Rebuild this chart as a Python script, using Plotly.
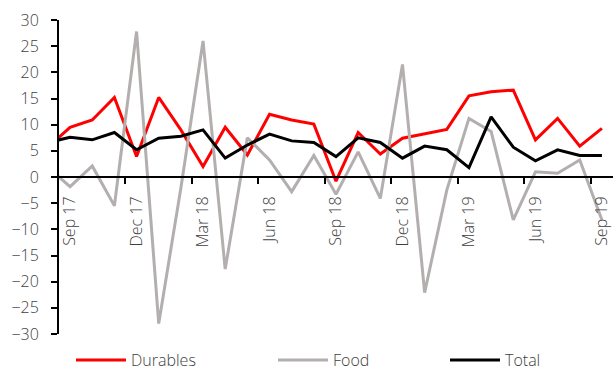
import plotly.graph_objects as go

# Monthly series, Aug 17 .. Sep 19 (year-on-year %, 3m/3m style)
months = ["Aug 17", "Sep 17", "Oct 17", "Nov 17", "Dec 17", "Jan 18", "Feb 18", "Mar 18",
          "Apr 18", "May 18", "Jun 18", "Jul 18", "Aug 18", "Sep 18", "Oct 18", "Nov 18",
          "Dec 18", "Jan 19", "Feb 19", "Mar 19", "Apr 19", "May 19", "Jun 19", "Jul 19",
          "Aug 19", "Sep 19"]

durables = [5.7, 9.5, 10.9, 15.2, 3.9, 15.2, 9.0, 2.0, 9.5, 4.2, 12.0, 10.9, 10.1, -0.8,
            8.5, 4.4, 7.4, 8.2, 9.1, 15.5, 16.3, 16.6, 7.1, 11.2, 5.9, 9.3]
food = [1.85, -1.85, 2.1, -5.5, 27.8, -28.0, -2.1, 26.0, -17.6, 7.5, 3.25, -2.8, 4.1, -3.3,
        4.8, -4.1, 21.5, -22.1, -2.5, 11.2, 8.7, -8.2, 1.0, 0.7, 3.25, -8.2]
total = [6.6, 7.6, 7.1, 8.5, 5.2, 7.4, 7.8, 9.0, 3.6, 6.1, 8.2, 6.9, 6.6, 3.9,
         7.5, 6.6, 3.6, 5.9, 5.2, 1.8, 11.5, 5.7, 3.1, 5.2, 4.1, 4.1]

label_months = ["Sep 17", "Dec 17", "Mar 18", "Jun 18", "Sep 18", "Dec 18", "Mar 19",
                "Jun 19", "Sep 19"]

idx = list(range(len(months)))
label_pos = [months.index(m) for m in label_months]
tick_pos = [p - 0.5 for p in label_pos[1:]]

FONT = "Open Sans"
TXT = "#404040"
x_range = [0.5, len(months) - 0.5]

series = [
    ("Durables", durables, "#ff0000", "legend"),
    ("Food", food, "#b3afae", "legend2"),
    ("Total", total, "#000000", "legend3"),
]

fig = go.Figure()
for name, vals, col, leg in series:
    fig.add_trace(go.Scatter(
        x=idx, y=vals, mode="lines", name=name,
        line=dict(color=col, width=3), legend=leg,
        hovertext=months,
    ))

# invisible trace carrying the tick-mark axis
fig.add_trace(go.Scatter(x=x_range, y=[0, 0], xaxis="x2", mode="lines",
                         line=dict(width=0), showlegend=False, hoverinfo="skip"))

legend_common = dict(orientation="h", yref="container", yanchor="middle", y=0.032,
                     xref="container", xanchor="left",
                     font=dict(family=FONT, size=16, color=TXT, weight=300),
                     bgcolor="rgba(0,0,0,0)", itemwidth=50, tracegroupgap=0,
                     entrywidth=150, entrywidthmode="pixels")

fig.update_layout(
    width=616, height=372,
    margin=dict(l=59, r=3, t=20, b=38, autoexpand=False),
    paper_bgcolor="white", plot_bgcolor="white",
    font=dict(family=FONT, size=16, color=TXT, weight=300),
    showlegend=True,
    legend=dict(x=71 / 616, **legend_common),
    legend2=dict(x=273 / 616, **legend_common),
    legend3=dict(x=445 / 616, **legend_common),
    yaxis=dict(
        range=[-30, 30], dtick=5, tick0=0, showgrid=False, zeroline=False,
        showline=True, linecolor="black", linewidth=2,
        ticks="outside", ticklen=6, tickwidth=2, tickcolor="black",
        ticklabelstandoff=9,
        tickfont=dict(family=FONT, size=16, color=TXT, weight=300),
    ),
    xaxis=dict(
        range=x_range, anchor="free", position=0.5,
        tickmode="array", tickvals=label_pos, ticktext=label_months,
        tickangle=-90, showgrid=False, zeroline=False,
        showline=True, linecolor="black", linewidth=2,
        ticks="", ticklabelstandoff=12,
        tickfont=dict(family=FONT, size=16, color=TXT, weight=300),
    ),
    xaxis2=dict(
        range=x_range, anchor="free", position=0.5, overlaying="x",
        tickmode="array", tickvals=tick_pos, showticklabels=False,
        showgrid=False, zeroline=False, showline=False,
        ticks="outside", ticklen=6, tickwidth=2, tickcolor="black",
    ),
)

fig.write_html("out.html")
